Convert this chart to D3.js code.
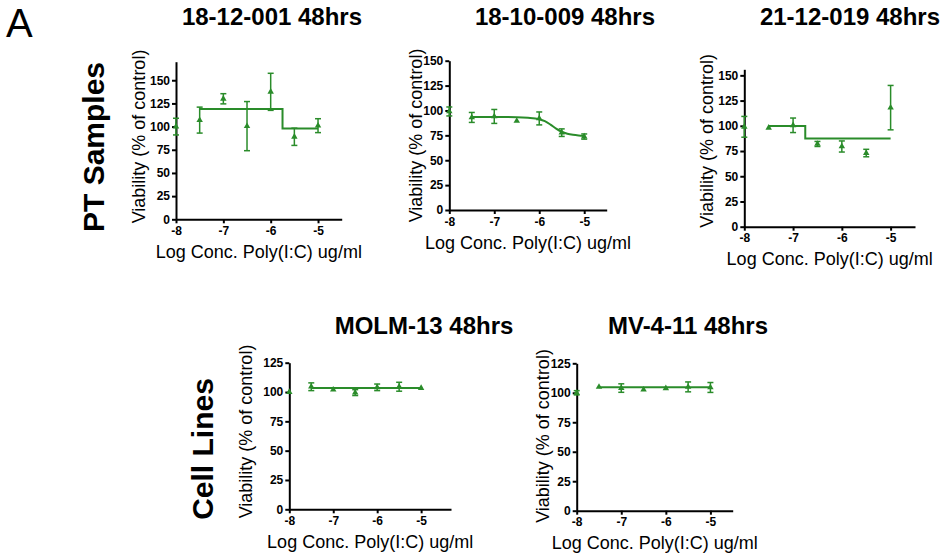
<!DOCTYPE html>
<html><head><meta charset="utf-8">
<script src="https://cdn.jsdelivr.net/npm/d3@7"></script>
<style>
body{margin:0;background:#fff;}
svg{display:block;font-family:"Liberation Sans",Arial,sans-serif;}
.tick text{font-weight:bold;font-size:12px;fill:#000;}
</style></head>
<body><svg id="c" width="944" height="558"></svg>
<script>
// ---- data ----
const logConc = [-8, -7.5, -7, -6.5, -6, -5.5, -5];
const titles = ["18-12-001 48hrs", "18-10-009 48hrs", "21-12-019 48hrs", "MOLM-13 48hrs", "MV-4-11 48hrs"];
const yTicks = [0, 25, 50, 75, 100, 125, 150];
const xTicks = [-8, -7, -6, -5];

const mean1 = [100, 107, 130, 100.5, 137.5, 89, 101];
const sem1  = [9, 14, 5.5, 26.5, 20, 9.3, 7.5];
const mean2 = [99, 93, 94, 89.5, 92, 77.7, 73.8];
const sem2  = [4.5, 5, 7, 0, 6.5, 3.8, 2.6];
const mean3 = [99, 98, 100.5, 82, 79.5, 73, 118];
const sem3  = [10.3, 0, 7.2, 2.5, 5.5, 3.7, 22];
const mean4 = [100, 104.5, 102, 99.5, 104, 104.5, 103.4];
const sem4  = [0, 3.3, 0, 2.5, 2.8, 3.8, 0];
const mean5 = [100, 105, 104, 102.6, 103.8, 105, 104.5];
const sem5  = [1.8, 0, 3.6, 0, 0, 4.2, 4.2];

// fitted curves
const fitX1 = [-7.5, -5.75, -5.75, -5];
const fitY1 = [119, 119, 98, 98];
const fitX2 = [-7.5, -7, -6.5, -6.25, -6, -5.875, -5.75, -5.625, -5.5, -5.375, -5.25, -5.125, -5];
const fitY2 = [93.5, 93.5, 93.3, 92.7, 91.2, 89.2, 85.8, 81.8, 78.6, 76.6, 75.5, 74.9, 74.6];
const fitX3 = [-7.5, -6.75, -6.75, -5];
const fitY3 = [99.7, 99.7, 87.3, 87.3];
const fitX4 = [-7.5, -5];
const fitY4 = [103.4, 103.4];
const fitX5 = [-7.5, -5];
const fitY5 = [104.6, 104.6];

// ---- layout ----
const panels = [
  {mean: mean1, sem: sem1, fx: fitX1, fy: fitY1, step: true,  x: [176, 341.7], xd: [-8, -4.5], y: [219.3, 61.7], yd: [0, 170], ylab: 31, ymid: 136.5},
  {mean: mean2, sem: sem2, fx: fitX2, fy: fitY2, step: false, x: [449.3, 606.7], xd: [-8, -4.5], y: [210, 60.7], yd: [0, 150], ylab: 27.6, ymid: 135.5},
  {mean: mean3, sem: sem3, fx: fitX3, fy: fitY3, step: true,  x: [744.3, 915], xd: [-8, -4.5], y: [226.7, 69.3], yd: [0, 156], ylab: 31, ymid: 140.8},
  {mean: mean4, sem: sem4, fx: fitX4, fy: fitY4, step: true,  x: [289.3, 451], xd: [-8, -4.32], y: [509.3, 362.7], yd: [0, 125], ylab: 37.6, ymid: 431.5},
  {mean: mean5, sem: sem5, fx: fitX5, fy: fitY5, step: true,  x: [576.7, 732.7], xd: [-8, -4.5], y: [510.7, 363.3], yd: [0, 125], ylab: 27.4, ymid: 436}
];
const titlePos = [[272, 25], [565, 25], [850, 25], [424, 334], [688, 334]];
const green = "#2a8c2a";

const svg = d3.select("#c");

svg.append("text").attr("x", 6).attr("y", 36.5).attr("font-size", 40).text("A");
svg.append("text").attr("transform", "translate(104,147) rotate(-90)").attr("text-anchor", "middle")
  .attr("font-size", 30).attr("font-weight", "bold").text("PT Samples");
svg.append("text").attr("transform", "translate(213,449) rotate(-90)").attr("text-anchor", "middle")
  .attr("font-size", 30).attr("font-weight", "bold").text("Cell Lines");

panels.forEach((p, i) => {
  const xs = d3.scaleLinear().domain(p.xd).range(p.x);
  const ys = d3.scaleLinear().domain(p.yd).range(p.y);
  const g = svg.append("g");

  svg.append("text").attr("x", titlePos[i][0]).attr("y", titlePos[i][1]).attr("text-anchor", "middle")
    .attr("font-size", 24).attr("font-weight", "bold").text(titles[i]);

  const xa = g.append("g").attr("transform", `translate(0,${p.y[0]})`)
    .call(d3.axisBottom(xs).tickValues(xTicks).tickSize(4).tickPadding(3).tickSizeOuter(0).tickFormat(d => String(d)));
  const ya = g.append("g").attr("transform", `translate(${p.x[0]},0)`)
    .call(d3.axisLeft(ys).tickValues(yTicks.filter(v => v <= p.yd[1])).tickSize(4).tickPadding(2).tickSizeOuter(0).tickFormat(d => String(d)));
  [xa, ya].forEach(a => {
    a.select(".domain").attr("stroke", "#000").attr("stroke-width", 2);
    a.selectAll(".tick line").attr("stroke", "#000").attr("stroke-width", 2);
    a.selectAll(".tick text").style("font-family", '"Liberation Sans",Arial,sans-serif');
  });

  g.append("text").attr("x", (p.x[0] + p.x[1]) / 2).attr("y", p.y[0] + 38.5).attr("text-anchor", "middle")
    .attr("font-size", 18).text("Log Conc. Poly(I:C) ug/ml");
  g.append("text").attr("transform", `translate(${p.x[0] - p.ylab},${p.ymid}) rotate(-90)`).attr("text-anchor", "middle")
    .attr("font-size", 18).text("Viability (% of control)");

  // fitted curve
  const pts = p.fx.map((v, k) => [v, p.fy[k]]);
  const line = d3.line().x(d => xs(d[0])).y(d => ys(d[1])).curve(p.step ? d3.curveLinear : d3.curveMonotoneX);
  g.append("path").attr("d", line(pts)).attr("fill", "none").attr("stroke", green).attr("stroke-width", 2);

  // error bars
  const data = logConc.map((c, k) => ({c, m: p.mean[k], s: p.sem[k]}));
  const eb = g.selectAll(".eb").data(data.filter(d => d.s > 0)).join("g").attr("stroke", green).attr("stroke-width", 1.5);
  eb.append("line").attr("x1", d => xs(d.c)).attr("x2", d => xs(d.c)).attr("y1", d => ys(d.m - d.s)).attr("y2", d => ys(d.m + d.s));
  eb.append("line").attr("x1", d => xs(d.c) - 3).attr("x2", d => xs(d.c) + 3).attr("y1", d => ys(d.m - d.s)).attr("y2", d => ys(d.m - d.s));
  eb.append("line").attr("x1", d => xs(d.c) - 3).attr("x2", d => xs(d.c) + 3).attr("y1", d => ys(d.m + d.s)).attr("y2", d => ys(d.m + d.s));

  g.selectAll(".pt").data(data).join("path")
    .attr("d", d3.symbol().type(d3.symbolTriangle).size(18))
    .attr("transform", d => `translate(${xs(d.c)},${ys(d.m)})`)
    .attr("fill", green);
});
</script></body></html>
